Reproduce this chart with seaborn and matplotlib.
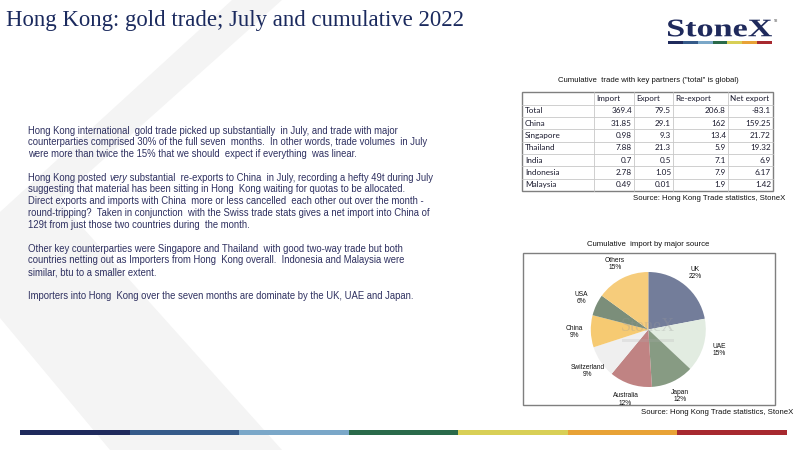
import numpy as np
import pandas as pd
import matplotlib
matplotlib.use('Agg')
import matplotlib.pyplot as plt
import seaborn as sns
from matplotlib.patches import Polygon, Rectangle, PathPatch
from matplotlib.textpath import TextPath
from matplotlib.font_manager import FontProperties
from matplotlib.transforms import Affine2D

# table data: cumulative trade with key partners (tonnes)
partners = ['Total', 'China', 'Singapore', 'Thailand', 'India', 'Indonesia', 'Malaysia']
imports = [369.4, 31.85, 0.98, 7.88, 0.7, 2.78, 0.49]
exports = [79.5, 29.1, 9.3, 21.3, 0.5, 1.05, 0.01]
reexports = [206.8, 162, 13.4, 5.9, 7.1, 7.9, 1.9]
net_exports = [-83.1, 159.25, 21.72, 19.32, 6.9, 6.17, 1.42]
table_cols = ['Import', 'Export', 'Re-export', 'Net export']

# pie data: cumulative import by major source (%)
sources = ['UK', 'UAE', 'Japan', 'Australia', 'Switzerland', 'China', 'USA', 'Others']
shares = [22, 15, 12, 12, 9, 9, 6, 15]
pie_colors = ['#737d9a', '#e2ece1', '#879b83', '#c08383', '#efefef', '#f6ca72', '#7b8e7a', '#f6cc7b']

stripe = ['#1f2a5c', '#355a89', '#7aa7c8', '#2a6a4a', '#d8cf56', '#e8a236', '#a7292f']

paragraphs = [
    ["Hong Kong international  gold trade picked up substantially  in July, and trade with major",
     "counterparties comprised 30% of the full seven  months.  In other words, trade volumes  in July",
     "were more than twice the 15% that we should  expect if everything  was linear."],
    [None,
     "suggesting that material has been sitting in Hong  Kong waiting for quotas to be allocated.",
     "Direct exports and imports with China  more or less cancelled  each other out over the month -",
     "round-tripping?  Taken in conjunction  with the Swiss trade stats gives a net import into China of",
     "129t from just those two countries during  the month."],
    ["Other key counterparties were Singapore and Thailand  with good two-way trade but both",
     "countries netting out as Importers from Hong  Kong overall.  Indonesia and Malaysia were",
     "similar, btu to a smaller extent."],
    ["Importers into Hong  Kong over the seven months are dominate by the UK, UAE and Japan."],
]

sns.set_theme(style='white')
plt.rcParams['font.family'] = ['Liberation Sans', 'DejaVu Sans']

fig = plt.figure(figsize=(8, 4.5), dpi=100)
slide = fig.add_axes([0, 0, 1, 1])
slide.set_xlim(0, 800)
slide.set_ylim(450, 0)
slide.axis('off')

# faint background chevron
slide.add_patch(Polygon([(232, 0), (282, 0), (58, 200), (282, 450), (110, 450), (0, 318), (0, 212)],
                        closed=True, facecolor='#f4f4f4', edgecolor='none', zorder=0))

# title
slide.text(6, 26, 'Hong Kong: gold trade; July and cumulative 2022', family='Liberation Serif',
           fontsize=16.4, color='#1b2a5e', va='baseline', ha='left')

# logo
fp = FontProperties(family='Liberation Serif', weight='bold')
tp = TextPath((0, 0), 'StoneX', size=1, prop=fp)
ext = tp.get_extents()
tr = Affine2D().translate(-ext.x0, -ext.y0).scale(104 / ext.width, -17 / ext.height).translate(668, 36.5)
slide.add_patch(PathPatch(tr.transform_path(tp), facecolor='#1f2a5c', edgecolor='none'))
slide.text(774, 21, 'TM', fontsize=2.2, color='#555555', ha='left', va='center')
seg = (772 - 668) / len(stripe)
for i, c in enumerate(stripe):
    slide.add_patch(Rectangle((668 + i * seg, 41.2), seg, 2.8, facecolor=c, edgecolor='none'))

# body text
body_kw = dict(fontsize=6.85, color='#2e3060', va='baseline', ha='left')
k = 0
for para in paragraphs:
    for line in para:
        yb = 133.5 + 11.8 * k
        if line is None:
            t1 = slide.text(28, yb, 'Hong Kong posted ', **body_kw)
            fig.canvas.draw()
            x1 = t1.get_window_extent().x1
            t2 = slide.text(x1, yb, 'very', style='italic', **body_kw)
            fig.canvas.draw()
            x2 = t2.get_window_extent().x1
            slide.text(x2, yb, ' substantial  re-exports to China  in July, recording a hefty 49t during July',
                       **body_kw)
        else:
            slide.text(28, yb, line, **body_kw)
        k += 1
    k += 1

# table
df = pd.DataFrame({'Import': imports, 'Export': exports, 'Re-export': reexports,
                   'Net export': net_exports}, index=partners)
col_x = [522, 594, 634, 673, 728, 773]
top, head_h, row_h = 91.5, 13, 12.35
bottom = top + head_h + row_h * len(df)
slide.text(648, 81, 'Cumulative  trade with key partners ("total" is global)', fontsize=5.6,
           color='#111111', ha='center', va='center')
tab_font = dict(family=['Lato', 'DejaVu Sans'], fontsize=5.9, color='#1a1a2e', va='center')
for j, name in enumerate(table_cols):
    slide.text(col_x[j + 1] + 2.5, top + head_h / 2 + 0.5, name, ha='left', **tab_font)
for i, (name, row) in enumerate(df.iterrows()):
    yc = top + head_h + row_h * (i + 0.5)
    slide.text(col_x[0] + 3, yc, name, ha='left', **tab_font)
    for j, col in enumerate(table_cols):
        slide.text(col_x[j + 2] - 2, yc, f'{row[col]:g}', ha='right', **tab_font)
for i in range(1, len(df) + 1):
    y = top + head_h + row_h * (i - 1)
    slide.plot([col_x[0], col_x[-1]], [y, y], color='#c8c8c8', lw=0.6)
for x in col_x[1:-1]:
    slide.plot([x, x], [top, bottom], color='#c8c8c8', lw=0.6)
slide.add_patch(Rectangle((col_x[0], top), col_x[-1] - col_x[0], bottom - top,
                          facecolor='none', edgecolor='#7f7f7f', lw=1.0))
slide.text(785, 199, 'Source: Hong Kong Trade statistics, StoneX', fontsize=5.6, color='#111111',
           ha='right', va='center')

# pie chart
slide.text(648, 245, 'Cumulative  import by major source', fontsize=5.6, color='#111111',
           ha='center', va='center')
slide.add_patch(Rectangle((522.5, 253), 252.5, 152, facecolor='none', edgecolor='#7f7f7f', lw=1.0))
cx, cy, r = 648.3, 329.5, 57.5
pax = fig.add_axes([(cx - r) / 800, (450 - cy - r) / 450, 2 * r / 800, 2 * r / 450])
wedges, _ = pax.pie(shares, colors=pie_colors, startangle=90, counterclock=False, radius=1,
                    wedgeprops=dict(linewidth=0))
pax.set_xlim(-1, 1)
pax.set_ylim(-1, 1)
pax.axis('off')
for w, name, s in zip(wedges, sources, shares):
    ang = np.deg2rad((w.theta1 + w.theta2) / 2)
    pax.text(1.28 * np.cos(ang), 1.28 * np.sin(ang), f'{name}\n{s}%', fontsize=4.8,
             color='#111111', ha='center', va='center', linespacing=1.1)
pax.text(0, 0.05, 'StoneX', family='Liberation Serif', fontsize=13, color='#9a9a9a', alpha=0.3,
         ha='center', va='center')
pax.add_patch(Rectangle((-0.45, -0.22), 0.9, 0.05, facecolor='#b0b0b0', alpha=0.22, edgecolor='none'))
slide.text(793, 412.5, 'Source: Hong Kong Trade statistics, StoneX', fontsize=5.6, color='#111111',
           ha='right', va='center')

# bottom colour stripe
seg = (787 - 20) / len(stripe)
for i, c in enumerate(stripe):
    slide.add_patch(Rectangle((20 + i * seg, 429.5), seg, 5, facecolor=c, edgecolor='none'))

fig.savefig('out.png', dpi=100)
